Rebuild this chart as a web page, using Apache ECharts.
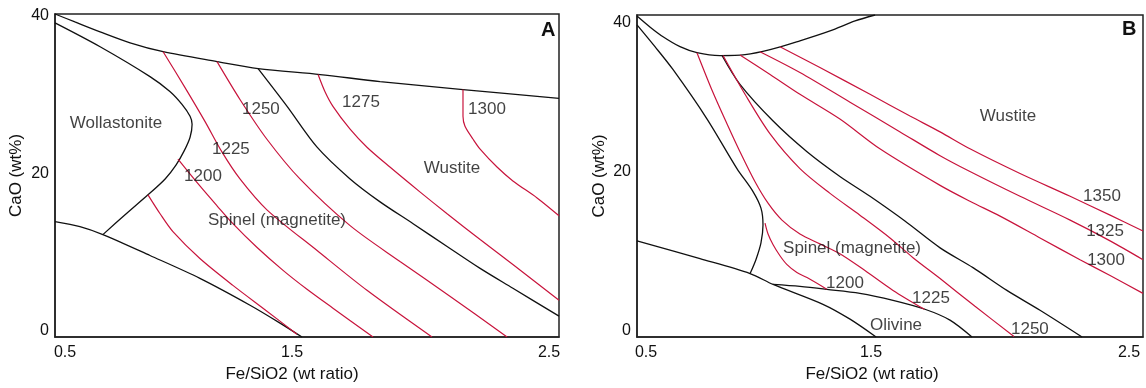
<!DOCTYPE html>
<html>
<head>
<meta charset="utf-8">
<script src="https://cdn.jsdelivr.net/npm/echarts@6/dist/echarts.min.js"></script>
<style>
  html, body { margin: 0; padding: 0; background: #fff; }
  #chart { width: 1146px; height: 388px; }
</style>
</head>
<body>
<div id="chart"></div>
<script>
// tick labels
const X_TICKS = [0.5, 1.5, 2.5];
const Y_TICKS = [0, 20, 40];

// panel A - phase boundaries (Fe/SiO2, CaO wt%)
const aTop = [[0.5, 40.25], [0.579, 39.24], [0.679, 37.98], [0.798, 36.59], [0.929, 35.46], [1.143, 34.2], [1.306, 33.31], [1.552, 32.56], [1.79, 31.67], [2.119, 30.66], [2.5, 29.53]];
const aWollastonite = [[0.5, 39.12], [0.679, 36.09], [0.877, 32.3], [0.956, 30.41], [1.004, 28.77], [1.036, 27.26], [1.044, 26.25], [1.036, 24.61], [1.012, 22.84], [0.98, 21.07], [0.937, 19.31], [0.869, 17.29], [0.778, 14.76], [0.69, 12.24]];
const aLower = [[0.5, 13.88], [0.599, 13.25], [0.69, 12.24], [0.877, 9.59], [1.075, 6.69], [1.274, 3.28], [1.393, 1.01], [1.48, -0.76]];
const aSpinelWustite = [[1.306, 33.31], [1.421, 28.52], [1.54, 23.34], [1.671, 19.31], [1.79, 16.4], [1.921, 13.63], [2.056, 10.73], [2.187, 7.95], [2.317, 5.43], [2.5, 1.89]];

// panel A - isotherms
const aIsoFirst = [[0.869, 17.29], [0.917, 14.89], [0.968, 12.62], [1.075, 9.21], [1.206, 5.8], [1.341, 2.52], [1.46, -0.4]];
const a1200 = [[0.988, 21.83], [1.075, 18.42], [1.143, 15.9], [1.206, 13.63], [1.302, 10.6], [1.405, 7.7], [1.5, 5.3], [1.603, 2.9], [1.762, -0.757]];
const a1225 = [[0.929, 35.46], [1.016, 30.91], [1.095, 26.62], [1.163, 22.71], [1.234, 19.31], [1.341, 15.39], [1.54, 10.22], [1.738, 5.17], [1.996, -0.757]];
const a1250 = [[1.143, 34.2], [1.234, 29.4], [1.341, 24.35], [1.472, 19.31], [1.671, 13.38], [1.869, 8.83], [2.067, 4.42], [2.294, -0.757]];
const a1275 = [[1.544, 32.56], [1.571, 30.41], [1.603, 28.52], [1.671, 25.62], [1.738, 23.34], [1.829, 20.82], [1.948, 17.67], [2.056, 14.89], [2.187, 11.61], [2.317, 8.45], [2.5, 3.91]];
const a1300 = [[2.119, 30.66], [2.119, 27.26], [2.127, 25.99], [2.159, 24.35], [2.187, 23.09], [2.254, 20.82], [2.317, 19.06], [2.413, 16.9], [2.5, 14.64]];

const aLabels = [
  [0.742, 26.37, 'Wollastonite'],
  [1.087, 19.68, '1200'],
  [1.198, 23.09, '1225'],
  [1.317, 28.14, '1250'],
  [1.714, 29.02, '1275'],
  [2.214, 28.14, '1300'],
  [2.075, 20.69, 'Wustite'],
  [1.381, 14.01, 'Spinel (magnetite)']
];

// panel B - phase boundaries
const bTop = [[0.5, 40.64], [0.551, 39.23], [0.603, 37.96], [0.67, 36.68], [0.737, 35.91], [0.828, 35.53], [0.927, 35.65], [1.026, 36.29], [1.144, 37.44], [1.263, 38.72], [1.362, 40.0], [1.441, 40.77]];
const bLeft = [[0.5, 39.49], [0.571, 36.68], [0.642, 33.74], [0.777, 27.35], [0.895, 20.96], [0.958, 18.02], [0.99, 15.85], [0.998, 13.67], [0.99, 11.37], [0.97, 9.2], [0.947, 7.41]];
const bOlivineLeft = [[0.5, 11.63], [0.749, 9.33], [0.947, 7.41], [1.038, 6.01], [1.235, 3.45], [1.342, 1.53], [1.445, -0.77]];
const bOlivineTop = [[1.038, 6.01], [1.144, 5.75], [1.251, 5.37], [1.381, 4.86], [1.512, 3.96], [1.638, 2.81], [1.737, 1.41], [1.824, -0.77]];
const bSpinelWustite = [[0.836, 35.54], [0.907, 31.82], [1.038, 27.09], [1.172, 23.13], [1.302, 19.94], [1.421, 17.38], [1.559, 14.19], [1.698, 10.73], [1.828, 8.18], [1.962, 5.24], [2.093, 2.68], [2.259, -0.77]];

// panel B - isotherms
const b1200 = [[1.006, 13.93], [1.018, 12.52], [1.038, 11.12], [1.065, 9.71], [1.093, 8.56], [1.132, 7.54], [1.172, 6.9], [1.25, 5.4]];
const b1225 = [[0.737, 35.91], [0.8, 30.8], [0.856, 26.71], [0.907, 23.13], [0.966, 19.29], [1.018, 16.49], [1.073, 14.31], [1.144, 12.52], [1.223, 11.24], [1.302, 9.97], [1.401, 7.8], [1.512, 5.24], [1.636, 2.8]];
const b1250 = [[0.84, 35.54], [0.927, 30.54], [1.026, 25.43], [1.144, 20.96], [1.263, 17.76], [1.381, 14.95], [1.5, 12.01], [1.591, 9.46], [1.698, 6.77], [1.836, 3.19], [1.99, -0.7]];
const b1300 = [[0.907, 35.62], [1.026, 33.1], [1.144, 30.54], [1.302, 27.35], [1.46, 23.51], [1.698, 18.79], [1.816, 16.74], [1.935, 14.82], [2.093, 12.01], [2.251, 9.2], [2.37, 7.16], [2.5, 4.86]];
const b1325 = [[0.986, 36.03], [1.144, 33.35], [1.342, 29.52], [1.54, 25.69], [1.698, 22.62], [1.816, 20.58], [2.014, 17.38], [2.212, 14.31], [2.37, 11.63], [2.5, 9.2]];
const b1350 = [[1.065, 36.67], [1.223, 33.99], [1.421, 30.54], [1.579, 27.73], [1.698, 25.69], [1.816, 23.51], [2.014, 20.32], [2.212, 17.38], [2.37, 14.95], [2.5, 12.91]];

const bLabels = [
  [1.966, 27.73, 'Wustite'],
  [2.338, 17.38, '1350'],
  [2.35, 12.91, '1325'],
  [2.354, 9.07, '1300'],
  [2.053, 0.26, '1250'],
  [1.662, 4.22, '1225'],
  [1.322, 6.13, '1200'],
  [1.35, 10.73, 'Spinel (magnetite)'],
  [1.524, 0.77, 'Olivine']
];

const FONT = 'Liberation Sans, Arial, sans-serif';
const TEXT = '#111';
const BLACK = '#111';
const RED = '#c8143c';

const chart = echarts.init(document.getElementById('chart'));

function curve(points, color, idx, width) {
  return {
    type: 'line',
    xAxisIndex: idx,
    yAxisIndex: idx,
    data: points,
    symbol: 'none',
    smooth: 0.3,
    silent: true,
    lineStyle: { color: color, width: width }
  };
}

function labels(items, idx) {
  return {
    type: 'scatter',
    xAxisIndex: idx,
    yAxisIndex: idx,
    symbolSize: 0,
    silent: true,
    clip: false,
    z: 10,
    data: items.map((d) => ({ name: d[2], value: [d[0], d[1]] })),
    label: {
      show: true,
      position: 'inside',
      formatter: '{b}',
      color: TEXT,
      fontFamily: FONT,
      fontSize: 17
    }
  };
}

// horizontal / vertical nudges of tick labels, as in the original figure
function richShift(list, horizontal) {
  const rich = {};
  list.forEach((s, i) => {
    let pad = [0, 0, 0, 0];
    if (horizontal) pad = s > 0 ? [0, 0, 0, 2 * s] : [0, -2 * s, 0, 0];
    else pad = s > 0 ? [2 * s, 0, 0, 0] : [0, 0, -2 * s, 0];
    rich['t' + i] = { fontFamily: FONT, fontSize: 16, color: TEXT, padding: pad };
  });
  return rich;
}

function xAxisCfg(idx, shifts, nameShift) {
  return {
    gridIndex: idx,
    type: 'value',
    min: 0.5,
    max: 2.5,
    axisLine: { show: true, onZero: false, lineStyle: { color: '#222', width: 1.5 } },
    axisTick: { show: false },
    splitLine: { show: false },
    axisLabel: {
      customValues: X_TICKS,
      margin: 8,
      formatter: (v) => '{t' + X_TICKS.indexOf(v) + '|' + v + '}',
      rich: richShift(shifts, true)
    },
    name: 'Fe/SiO2 (wt ratio)',
    nameLocation: 'middle',
    nameGap: 29,
    nameTextStyle: {
      fontFamily: FONT, fontSize: 17, color: TEXT,
      padding: [0, -2 * nameShift, 0, 0]
    }
  };
}

function yAxisCfg(idx, min, max, gap, shifts) {
  return {
    gridIndex: idx,
    type: 'value',
    min: min,
    max: max,
    axisLine: { show: true, onZero: false, lineStyle: { color: '#222', width: 1.5 } },
    axisTick: { show: false },
    splitLine: { show: false },
    axisLabel: {
      customValues: Y_TICKS,
      margin: 6,
      formatter: (v) => '{t' + Y_TICKS.indexOf(v) + '|' + v + '}',
      rich: richShift(shifts, false)
    },
    name: 'CaO (wt%)',
    nameLocation: 'middle',
    nameGap: gap,
    nameTextStyle: { fontFamily: FONT, fontSize: 17, color: TEXT }
  };
}

const option = {
  animation: false,
  backgroundColor: '#fff',
  title: [
    { text: 'A', left: 541, top: 20, padding: 0, textStyle: { fontFamily: FONT, fontSize: 20, fontWeight: 'bold', color: '#111' } },
    { text: 'B', left: 1122, top: 19, padding: 0, textStyle: { fontFamily: FONT, fontSize: 20, fontWeight: 'bold', color: '#111' } }
  ],
  grid: [
    { left: 55, top: 14, width: 504, height: 325, show: true, borderColor: '#222', borderWidth: 1.5, backgroundColor: 'transparent' },
    { left: 637, top: 15, width: 506, height: 325, show: true, borderColor: '#222', borderWidth: 1.5, backgroundColor: 'transparent' }
  ],
  xAxis: [
    xAxisCfg(0, [10, -15, -10], -15),
    xAxisCfg(1, [9, -19, -14], -18)
  ],
  yAxis: [
    yAxisCfg(0, -0.757, 40.25, 30, [0, 0, 0]),
    yAxisCfg(1, -0.77, 40.77, 29, [0, -4, 2])
  ],
  series: [
    curve(aTop, BLACK, 0, 1.3),
    curve(aWollastonite, BLACK, 0, 1.3),
    curve(aLower, BLACK, 0, 1.3),
    curve(aSpinelWustite, BLACK, 0, 1.3),
    curve(aIsoFirst, RED, 0, 1.2),
    curve(a1200, RED, 0, 1.2),
    curve(a1225, RED, 0, 1.2),
    curve(a1250, RED, 0, 1.2),
    curve(a1275, RED, 0, 1.2),
    curve(a1300, RED, 0, 1.2),
    labels(aLabels, 0),
    curve(bTop, BLACK, 1, 1.3),
    curve(bLeft, BLACK, 1, 1.3),
    curve(bOlivineLeft, BLACK, 1, 1.3),
    curve(bOlivineTop, BLACK, 1, 1.3),
    curve(bSpinelWustite, BLACK, 1, 1.3),
    curve(b1200, RED, 1, 1.2),
    curve(b1225, RED, 1, 1.2),
    curve(b1250, RED, 1, 1.2),
    curve(b1300, RED, 1, 1.2),
    curve(b1325, RED, 1, 1.2),
    curve(b1350, RED, 1, 1.2),
    labels(bLabels, 1)
  ]
};

chart.setOption(option);
</script>
</body>
</html>
